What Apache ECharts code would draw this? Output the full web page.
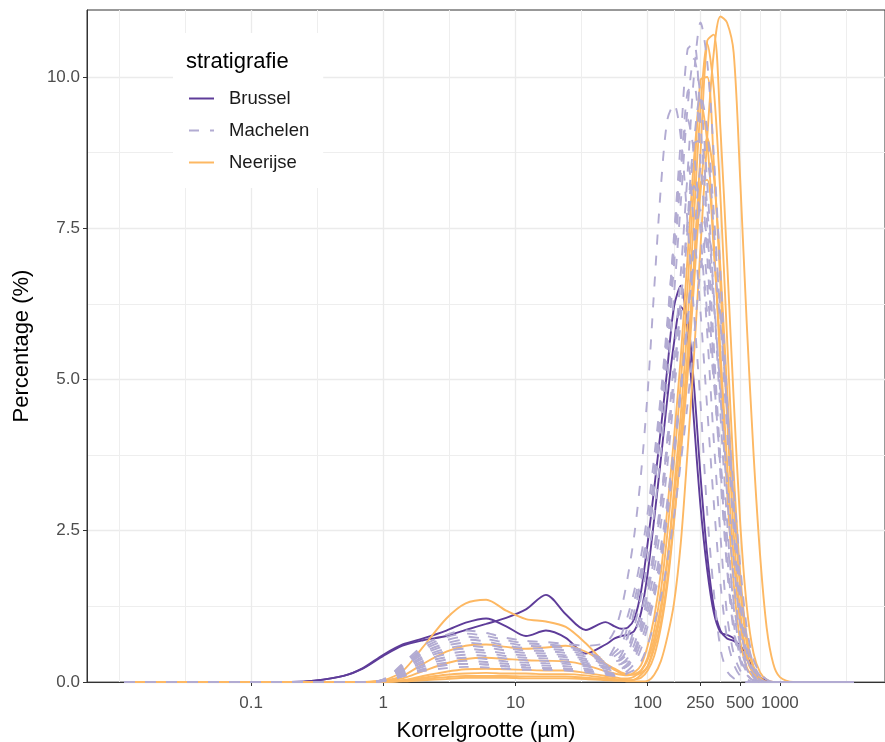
<!DOCTYPE html>
<html>
<head>
<meta charset="utf-8">
<script src="https://cdn.jsdelivr.net/npm/echarts@6.0.0/dist/echarts.min.js"></script>
<style>
html,body{margin:0;padding:0;background:#ffffff;}
#chart{width:885px;height:742px;}
</style>
</head>
<body>
<div id="chart"></div>
<script>
// ---------- DATA ----------
// particle size classes (µm)
const sizes = [0.011, 0.1, 0.2, 0.3, 0.5, 0.7, 1, 1.4, 2, 3, 4.2, 6, 8.5, 12, 17, 24, 34, 48,
  56.2, 63.1, 70.8, 79.4, 89.1, 100, 112, 126, 141, 158, 178, 200, 224, 251, 282, 316, 355,
  398, 447, 501, 562, 631, 708, 794, 891, 1000, 1259, 3600];

// Brussel samples (%)
const brussel1 = [0,0,0,0.02,0.1,0.22, 0.43,0.6,0.69,0.76,0.86,0.96,1.06,1.2,1.44,1.12,0.86,0.99,
  0.92,0.88,0.9,1.05,1.5,2.3,3.2,4.2,5.2,6.2,6.55,5.8,4.3,2.9,1.85,1.15,0.82,0.78,0.72,0.55,0.38,0.2,0.06,0.01,0,0,0,0];
const brussel2 = [0,0,0,0.02,0.1,0.23, 0.45,0.62,0.72,0.85,0.98,1.05,0.92,0.76,0.85,0.73,0.47,0.62,
  0.72,0.76,0.78,0.85,1.15,1.8,2.7,3.7,4.7,5.6,6.2,6.0,4.9,3.4,2.1,1.25,0.85,0.72,0.68,0.6,0.42,0.22,0.08,0.02,0,0,0,0];

// Machelen samples (%)
const machelen1 = [0,0,0,0,0,0, 0.04,0.3,0.6,0.78,0.85,0.81,0.73,0.68,0.66,0.63,0.6,0.65,
  0.85,1.2,1.75,2.45,3.45,4.8,6.5,8.2,9.3,9.55,9.0,7.6,6.1,4.6,2.8,1.5,0.55,0.18,0.06,0.01,0,0,0,0,0,0,0,0];
const machelen2 = [0,0,0,0,0,0, 0.02,0.12,0.25,0.32,0.35,0.33,0.3,0.28,0.27,0.26,0.22,0.17,
  0.14,0.22,0.31,0.5,0.91,1.44,2.08,2.94,4.03,5.34,6.76,8.39,10.03,10.9,10.25,8.72,6.76,4.69,2.83,1.31,0.55,0.22,0.05,0,0,0,0,0];
const machelen3 = [0,0,0,0,0,0, 0.03,0.19,0.39,0.51,0.55,0.52,0.47,0.44,0.43,0.41,0.35,0.26,
  0.32,0.39,0.55,0.92,1.41,1.99,2.79,3.81,5.05,6.39,7.93,9.48,10.3,9.68,8.24,6.39,4.43,2.68,1.24,0.52,0.21,0.05,0,0,0,0,0,0];
const machelen4 = [0,0,0,0,0,0, 0.04,0.25,0.49,0.64,0.7,0.67,0.6,0.56,0.55,0.52,0.45,0.34,
  0.43,0.52,0.77,1.17,1.66,2.32,3.18,4.26,5.49,6.88,8.37,9.75,9.85,8.61,7.03,5.2,3.42,1.88,0.84,0.35,0.12,0.02,0,0,0,0,0,0];
const machelen5 = [0,0,0,0,0,0, 0.02,0.1,0.21,0.28,0.3,0.29,0.26,0.24,0.23,0.22,0.19,0.14,
  0.12,0.2,0.27,0.44,0.82,1.28,1.85,2.62,3.59,4.75,6.01,7.47,8.92,9.7,9.12,7.76,6.01,4.17,2.52,1.16,0.49,0.19,0.05,0,0,0,0,0];
const machelen6 = [0,0,0,0,0,0, 0.04,0.26,0.53,0.69,0.75,0.71,0.65,0.6,0.59,0.56,0.48,0.36,
  0.49,0.61,0.93,1.35,1.86,2.56,3.46,4.56,5.77,7.16,8.56,9.3,8.74,7.44,5.77,4.0,2.42,1.12,0.47,0.19,0.05,0,0,0,0,0,0,0];
const machelen7 = [0,0,0,0,0,0, 0.03,0.18,0.35,0.46,0.5,0.48,0.43,0.4,0.39,0.37,0.32,0.24,
  0.25,0.3,0.4,0.63,1.01,1.47,2.08,2.88,3.87,5.0,6.26,7.61,8.9,8.95,7.83,6.39,4.73,3.11,1.71,0.77,0.32,0.11,0.02,0,0,0,0,0];
const machelen8 = [0,0,0,0,0,0, 0.01,0.09,0.18,0.23,0.25,0.24,0.22,0.2,0.2,0.19,0.16,0.12,
  0.1,0.12,0.19,0.31,0.55,0.92,1.39,1.98,2.75,3.7,4.77,5.98,7.27,8.5,8.55,7.48,6.11,4.52,2.97,1.63,0.73,0.3,0.1,0.02,0,0,0,0];
const machelen9 = [0,0,0,0,0,0, 0.03,0.23,0.46,0.6,0.65,0.62,0.56,0.52,0.51,0.48,0.42,0.31,
  0.34,0.37,0.49,0.78,1.15,1.6,2.22,3.03,4.02,5.08,6.31,7.54,8.2,7.71,6.56,5.08,3.53,2.13,0.98,0.41,0.16,0.04,0,0,0,0,0,0];
const machelen10 = [0,0,0,0,0,0, 0.02,0.16,0.32,0.41,0.45,0.43,0.39,0.36,0.35,0.33,0.29,0.22,
  0.18,0.22,0.27,0.39,0.67,1.04,1.49,2.11,2.89,3.82,4.84,6.01,7.18,7.8,7.33,6.24,4.84,3.35,2.03,0.94,0.39,0.16,0.04,0,0,0,0,0];
const machelen11 = [0,0,0,0,0,0, 0.04,0.28,0.56,0.74,0.8,0.76,0.69,0.64,0.62,0.59,0.51,0.38,
  0.58,0.78,1.1,1.52,2.08,2.8,3.72,4.77,5.98,7.27,8.5,8.55,7.48,6.11,4.52,2.97,1.63,0.73,0.3,0.1,0.02,0,0,0,0,0,0,0];
const machelen12 = [0,0,0,0,0,0, 0.02,0.1,0.21,0.28,0.3,0.29,0.26,0.24,0.23,0.22,0.19,0.14,
  0.12,0.1,0.15,0.2,0.34,0.61,0.97,1.41,2.0,2.74,3.63,4.59,5.7,6.81,7.4,6.96,5.92,4.59,3.18,1.92,0.89,0.37,0.15,0.04,0,0,0,0];
const machelen13 = [0,0,0,0,0,0, 0.02,0.14,0.28,0.37,0.4,0.38,0.34,0.32,0.31,0.3,0.26,0.19,
  0.32,0.45,0.74,1.18,1.75,2.46,3.4,4.56,5.88,7.37,8.96,10.45,10.55,9.22,7.53,5.57,3.66,2.01,0.9,0.37,0.13,0.02,0,0,0,0,0,0];
const machelen14 = [0,0,0,0,0,0, 0.03,0.21,0.42,0.55,0.6,0.57,0.52,0.48,0.47,0.44,0.38,0.29,
  0.28,0.3,0.36,0.53,0.81,1.16,1.62,2.24,3.01,3.89,4.87,5.92,6.9,6.95,6.09,4.97,3.68,2.42,1.33,0.6,0.25,0.08,0.01,0,0,0,0,0];

// Neerijse samples (%)
const neerijse1 = [0,0,0,0,0,0, 0,0.01,0.03,0.05,0.07,0.07,0.07,0.06,0.06,0.06,0.05,0.03,0.02,0.02,0.01,0.01,0.01,
  0.02,0.12,0.35,0.75,1.3,2.3,3.8,5.4,7.2,9.0,10.4,11.0,10.9,10.4,8.3,5.9,3.8,2.1,0.9,0.3,0.08,0,0];
const neerijse2 = [0,0,0,0,0,0, 0.01,0.02,0.07,0.12,0.14,0.15,0.14,0.14,0.13,0.13,0.11,0.07,
  0.05,0.04,0.03,0.04,0.07,0.19,0.43,0.91,1.61,2.63,3.87,5.27,6.93,8.76,10.6,10.7,9.14,6.99,4.68,2.63,1.24,0.48,0.16,0.04,0,0,0,0];
const neerijse3 = [0,0,0,0,0,0, 0,0.02,0.05,0.08,0.1,0.1,0.1,0.09,0.09,0.09,0.07,0.05,
  0.04,0.03,0.03,0.04,0.12,0.26,0.63,1.16,2.0,3.17,4.43,5.91,7.7,9.5,10.55,9.81,8.02,5.7,3.48,1.79,0.74,0.26,0.08,0,0,0,0,0];
const neerijse4 = [0,0,0,0,0,0, 0.01,0.03,0.1,0.17,0.21,0.22,0.21,0.2,0.19,0.19,0.15,0.1,
  0.08,0.06,0.06,0.09,0.19,0.41,0.86,1.52,2.47,3.64,4.95,6.51,8.23,9.95,10.0,8.59,6.57,4.39,2.47,1.16,0.45,0.15,0.04,0,0,0,0,0];
const neerijse5 = [0,0,0,0,0,0, 0.02,0.06,0.18,0.31,0.38,0.4,0.38,0.36,0.35,0.34,0.28,0.18,
  0.14,0.12,0.11,0.16,0.28,0.6,1.07,1.82,2.88,4.03,5.38,7.01,8.64,9.6,8.93,7.3,5.18,3.17,1.63,0.67,0.24,0.08,0,0,0,0,0,0];
const neerijse6 = [0,0,0,0,0,0, 0.02,0.1,0.3,0.5,0.6,0.62,0.58,0.55,0.57,0.6,0.5,0.3,
  0.22,0.16,0.13,0.12,0.15,0.26,0.55,0.99,1.71,2.7,3.78,5.04,6.57,8.1,9.0,8.37,6.84,4.86,2.97,1.53,0.63,0.23,0.07,0,0,0,0,0];
const neerijse7 = [0,0,0,0,0,0, 0.03,0.18,0.58,1.05,1.3,1.36,1.18,1.04,1.0,0.91,0.64,0.3,
  0.2,0.14,0.12,0.13,0.19,0.37,0.72,1.26,2.06,3.02,4.12,5.42,6.85,8.25,8.3,7.14,5.46,3.65,2.06,0.97,0.38,0.13,0.03,0,0,0,0,0];

// axis breaks (µm) and tick labels
const xTickLabels = [0.1, 1, 10, 100, 250, 500, 1000];
const xMinorGrid = [0.01, 0.0316, 0.316, 3.16, 31.6, 158.1, 353.6, 707.1, 3162.3];
const xLimits = [0.005737, 6237];
const yTicks = [0, 2.5, 5, 7.5, 10];
const yMinorGrid = [1.25, 3.75, 6.25, 8.75];
const yMax = 11.107;

const groups = [
  {name: 'Brussel',  color: '#5E3C99', dashed: false, samples: [brussel1, brussel2]},
  {name: 'Neerijse', color: '#FDB863', dashed: false, samples: [neerijse1, neerijse2, neerijse3, neerijse4, neerijse5, neerijse6, neerijse7]},
  {name: 'Machelen', color: '#B2ABD2', dashed: true,  samples: [machelen1, machelen2, machelen3, machelen4, machelen5, machelen6, machelen7,
      machelen8, machelen9, machelen10, machelen11, machelen12, machelen13, machelen14]}
];

// ---------- CHART ----------
const FONT = '"Liberation Sans", Arial, Helvetica, sans-serif';
const lg = v => Math.log10(v);
const xTickVals = xTickLabels.map(lg);

const series = [];
groups.forEach(g => {
  g.samples.forEach(vals => {
    series.push({
      name: g.name,
      type: 'line',
      xAxisIndex: 0,
      yAxisIndex: 0,
      data: sizes.map((s, i) => [lg(s), vals[i]]),
      showSymbol: false,
      symbol: 'none',
      smooth: 0.3,
      lineStyle: {color: g.color, width: 1.9, type: g.dashed ? [10, 11] : 'solid', cap: 'butt'},
      itemStyle: {color: g.color},
      emphasis: {disabled: true},
      silent: true
    });
  });
});

const chart = echarts.init(document.getElementById('chart'));
chart.setOption({
  animation: false,
  backgroundColor: '#ffffff',
  grid: {left: 87, right: 0, top: 10, bottom: 60, show: true, borderColor: '#333333', borderWidth: 1,
    backgroundColor: '#ffffff', containLabel: false, outerBoundsMode: 'none'},
  title: {
    text: 'stratigrafie', left: 186, top: 51, padding: 0,
    textStyle: {fontFamily: FONT, fontSize: 22, fontWeight: 'normal', color: '#000000'}
  },
  legend: {
    data: ['Brussel', 'Machelen', 'Neerijse'],
    orient: 'vertical', left: 173, top: 33,
    padding: [56, 14, 16, 15],
    backgroundColor: '#ffffff',
    itemWidth: 25, itemHeight: 2, itemGap: 13,
    selectedMode: false,
    itemStyle: {opacity: 0},
    textStyle: {fontFamily: FONT, fontSize: 18.5, color: '#1a1a1a', padding: [0, 0, 0, 10]}
  },
  xAxis: [
    {
      type: 'value', min: lg(xLimits[0]), max: lg(xLimits[1]), position: 'bottom',
      axisLine: {show: true, onZero: false, lineStyle: {color: '#333333', width: 1}},
      axisTick: {show: true, customValues: xTickVals, length: 4, lineStyle: {color: '#333333', width: 1}},
      axisLabel: {
        customValues: xTickVals, margin: 13, color: '#4D4D4D', fontSize: 17, fontFamily: FONT,
        formatter: v => {
          let best = 0;
          xTickVals.forEach((t, i) => { if (Math.abs(t - v) < Math.abs(xTickVals[best] - v)) best = i; });
          return String(xTickLabels[best]);
        }
      },
      splitLine: {show: true, lineStyle: {color: '#EBEBEB', width: 1.3}},
      name: 'Korrelgrootte (µm)', nameLocation: 'middle', nameGap: 38,
      nameTextStyle: {fontFamily: FONT, fontSize: 22, color: '#000000'}
    },
    {
      type: 'value', min: lg(xLimits[0]), max: lg(xLimits[1]), position: 'top',
      axisLine: {show: false, onZero: false}, axisLabel: {show: false},
      axisTick: {show: false, customValues: xMinorGrid.map(lg)},
      splitLine: {show: true, lineStyle: {color: '#EEEEEE', width: 1}}
    }
  ],
  yAxis: [
    {
      type: 'value', min: 0, max: yMax, position: 'left',
      axisLine: {show: true, onZero: false, lineStyle: {color: '#333333', width: 1}},
      axisTick: {show: true, customValues: yTicks, length: 4, lineStyle: {color: '#333333', width: 1}},
      axisLabel: {customValues: yTicks, margin: 7, color: '#4D4D4D', fontSize: 17, fontFamily: FONT,
        padding: [4, 0, 0, 0], formatter: v => v.toFixed(1)},
      splitLine: {show: true, lineStyle: {color: '#EBEBEB', width: 1.3}},
      name: 'Percentage (%)', nameLocation: 'middle', nameGap: 54, nameRotate: 90,
      nameTextStyle: {fontFamily: FONT, fontSize: 22, color: '#000000'}
    },
    {
      type: 'value', min: 0, max: yMax, position: 'right',
      axisLine: {show: false, onZero: false}, axisLabel: {show: false},
      axisTick: {show: false, customValues: yMinorGrid},
      splitLine: {show: true, lineStyle: {color: '#EEEEEE', width: 1}}
    }
  ],
  series: series
});
</script>
</body>
</html>
